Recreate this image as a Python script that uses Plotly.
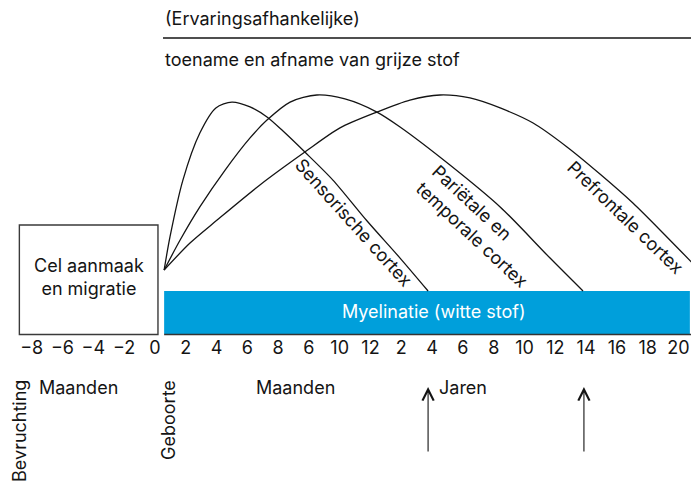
import plotly.graph_objects as go

# ---------------- data ----------------
# x positions are ordinal tick slots (0..21) of the mixed age axis
TICK_POS = list(range(22))
TICK_LABELS = ["−8", "−6", "−4", "−2", "0", "2", "4", "6", "8", "6", "10", "12",
               "2", "4", "6", "8", "10", "12", "14", "16", "18", "20"]

# grey-matter curves (relative units, 0 = top of myelination band, 100 = peak)
SENSORY_X = [4.30, 4.49, 4.91, 5.46, 5.98, 6.50, 7.09, 7.64, 8.16, 8.87, 9.78, 10.89, 11.96, 12.87]
SENSORY_Y = [10.7, 27.6, 56.6, 80.6, 93.4, 96.4, 93.9, 88.8, 81.6, 70.9, 56.6, 35.7, 16.8, 0.0]

PARIETAL_X = [4.30, 4.82, 5.46, 6.28, 7.09, 7.64, 8.39, 9.26, 10.17, 11.21, 11.96, 13.58, 15.21, 16.83, 17.90]
PARIETAL_Y = [10.7, 26.0, 42.9, 61.7, 78.1, 87.2, 96.4, 100.0, 98.0, 91.3, 83.7, 64.3, 42.9, 16.8, 0.0]

PREFRONTAL_X = [4.30, 5.14, 6.02, 7.41, 8.87, 10.01, 11.21, 12.28, 13.26, 14.23, 15.21, 16.28, 17.38, 18.45, 19.52, 20.56, 21.67, 22.19]
PREFRONTAL_Y = [10.7, 24.5, 36.2, 54.1, 70.9, 83.2, 91.3, 97.4, 100.0, 98.5, 93.4, 85.7, 73.5, 59.7, 44.9, 28.6, 10.7, 2.0]

BIRTH_X = 4.30
MYELIN_END_X = 21.37
MYELIN_BAND = [-22.0, 0.0]
CELL_BOX_X = [-0.40, 4.10]
CELL_BOX_Y = [-22.2, 33.7]
ARROW_X = [12.87, 17.93]

CURVE_LABELS = ["Sensorische cortex", "Pariëtale en<br>temporale cortex", "Prefrontale cortex"]

# ---------------- figure ----------------
FONT = "Inter"
FS = 18
INK = "#141414"

# the page body has an 8px margin, so the figure is 8px smaller than the window
X_RANGE = [-0.769, 21.666]
Y_RANGE = [-99.5, 144.4]

fig = go.Figure()

for xs, ys in [(SENSORY_X, SENSORY_Y), (PARIETAL_X, PARIETAL_Y), (PREFRONTAL_X, PREFRONTAL_Y)]:
    fig.add_trace(go.Scatter(x=xs, y=ys, mode="lines",
                             line=dict(color=INK, width=1.3, shape="spline", smoothing=0.8),
                             hoverinfo="skip", showlegend=False))

shapes = [
    # cell production box
    dict(type="rect", xref="x", yref="y", x0=CELL_BOX_X[0], x1=CELL_BOX_X[1],
         y0=CELL_BOX_Y[0], y1=CELL_BOX_Y[1], line=dict(color="#3a3a3a", width=1.4),
         fillcolor="white", layer="below"),
    # myelination band
    dict(type="rect", xref="x", yref="y", x0=BIRTH_X, x1=MYELIN_END_X,
         y0=MYELIN_BAND[0], y1=MYELIN_BAND[1], line=dict(width=0),
         fillcolor="#009FDB", layer="below"),
    # baseline
    dict(type="line", xref="x", yref="y", x0=BIRTH_X, x1=22.3, y0=-22.2, y1=-22.2,
         line=dict(color="#333333", width=1.6)),
    # top divider line
    dict(type="line", xref="x", yref="y", x0=4.263, x1=22.3, y0=129.1, y1=129.1,
         line=dict(color=INK, width=1.6)),
]

ann = []


def txt(x, y, s, **kw):
    d = dict(x=x, y=y, xref="x", yref="y", text=s, showarrow=False,
             font=dict(family=FONT, size=FS, color=INK))
    d.update(kw)
    ann.append(d)


txt(4.263, 139.3, "(Ervaringsafhankelijke)", xanchor="left", yanchor="middle")
txt(4.263, 117.9, "toename en afname van grijze stof", xanchor="left", yanchor="middle")
txt(1.86, 6.9, "Cel aanmaak<br>en migratie", xanchor="center", yanchor="middle", align="center")
txt(13.06, -10.7, "Myelinatie (witte stof)", xanchor="center", yanchor="middle",
    font=dict(family=FONT, size=FS, color="white"))

txt(10.46, 35.2, CURVE_LABELS[0], textangle=48, xanchor="center", yanchor="middle")
txt(14.56, 33.2, CURVE_LABELS[1], textangle=43, xanchor="center", yanchor="middle", align="left")
txt(19.28, 37.5, CURVE_LABELS[2], textangle=44, xanchor="center", yanchor="middle")

txt(1.535, -49.0, "Maanden", xanchor="center", yanchor="middle")
txt(8.575, -49.0, "Maanden", xanchor="center", yanchor="middle")
txt(14.01, -49.0, "Jaren", xanchor="center", yanchor="middle")
txt(-0.38, -71.4, "Bevruchting", textangle=-90, xanchor="center", yanchor="middle")
txt(4.458, -65.8, "Geboorte", textangle=-90, xanchor="center", yanchor="middle")

for ax_ in ARROW_X:
    ann.append(dict(x=ax_, y=-49.0, ax=ax_, ay=-82.7, xref="x", yref="y", axref="x", ayref="y",
                    text="", showarrow=True, arrowhead=5, arrowsize=2.0, arrowwidth=1.1,
                    arrowcolor=INK))

fig.update_layout(
    width=691, height=478,
    margin=dict(l=0, r=0, t=0, b=0),
    paper_bgcolor="white", plot_bgcolor="white",
    shapes=shapes, annotations=ann,
    showlegend=False,
    xaxis=dict(range=X_RANGE, tickvals=TICK_POS, ticktext=TICK_LABELS,
               showgrid=False, zeroline=False, showline=False, ticks="",
               anchor="free", position=1 - (334.5 - 8) / 478,
               tickfont=dict(family=FONT, size=FS, color=INK), fixedrange=True),
    yaxis=dict(range=Y_RANGE, visible=False, fixedrange=True),
)

fig.write_html("out.html")
